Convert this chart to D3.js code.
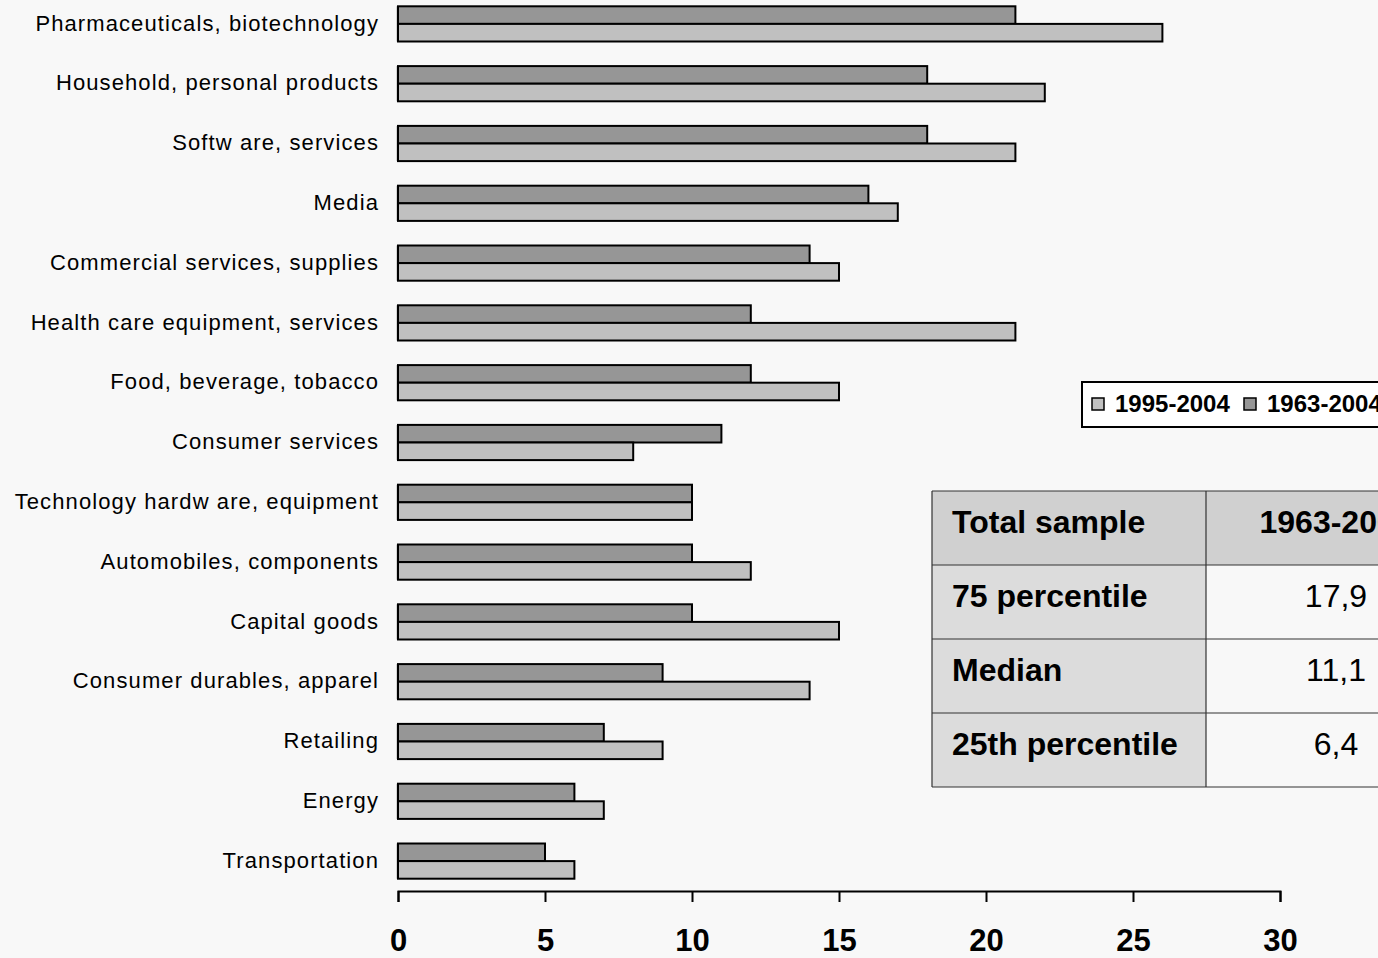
<!DOCTYPE html>
<html>
<head>
<meta charset="utf-8">
<script src="https://cdn.jsdelivr.net/npm/d3@7"></script>
<style>
html,body{margin:0;padding:0;background:#f8f8f8;}
svg{display:block;font-family:"Liberation Sans",Arial,sans-serif;}
</style>
</head>
<body>
<svg id="chart" width="1378" height="958"></svg>
<script>
const categories = ["Pharmaceuticals, biotechnology","Household, personal products","Softw are, services","Media","Commercial services, supplies","Health care equipment, services","Food, beverage, tobacco","Consumer services","Technology hardw are, equipment","Automobiles, components","Capital goods","Consumer durables, apparel","Retailing","Energy","Transportation"];
const series1963 = [21,18,18,16,14,12,12,11,10,10,10,9,7,6,5];
const series1995 = [26,22,21,17,15,21,15,8,10,12,15,14,9,7,6];
const seriesNames = ["1963-2004","1995-2004"];
const xTicks = [0,5,10,15,20,25,30];
const tableHeader = ["Total sample","1963-2004"];
const tableRows = [["75 percentile","17,9"],["Median","11,1"],["25th percentile","6,4"]];

const svg = d3.select("#chart");
svg.append("rect").attr("width",1378).attr("height",958).attr("fill","#f8f8f8");

const x = d3.scaleLinear().domain([0,30]).range([398,1280]);
const y = d3.scaleBand().domain(categories).range([-6,891]);
const bw = y.bandwidth();
const barH = 17.6;
const yInner = d3.scaleBand().domain(seriesNames).range([bw/2-barH, bw/2+barH]);
const colors = {"1963-2004":"#969696","1995-2004":"#c0c0c0"};

const data = categories.map((c,i)=>({cat:c, vals:[{s:"1963-2004",v:series1963[i]},{s:"1995-2004",v:series1995[i]}]}));

// faint y axis segments
svg.append("g").selectAll("line").data(categories).join("line")
  .attr("x1",397).attr("x2",397)
  .attr("y1",d=>y(d)+bw/2-barH).attr("y2",d=>y(d)+bw/2+barH)
  .attr("stroke","#c8c8c8").attr("stroke-width",1.5);

const g = svg.append("g").selectAll("g").data(data).join("g")
  .attr("transform",d=>`translate(0,${y(d.cat)})`);
g.selectAll("rect").data(d=>d.vals).join("rect")
  .attr("x",x(0)).attr("y",d=>yInner(d.s))
  .attr("width",d=>x(d.v)-x(0)).attr("height",yInner.bandwidth())
  .attr("fill",d=>colors[d.s]).attr("stroke","#000").attr("stroke-width",2);

// category labels
svg.append("g").selectAll("text").data(categories).join("text")
  .attr("x",379).attr("y",d=>y(d)+bw/2).attr("dy","0.3em")
  .attr("text-anchor","end").attr("font-size",22).attr("letter-spacing","1.1px").attr("fill","#000")
  .text(d=>d);

// x axis
const xAxis = d3.axisBottom(x).tickValues(xTicks).tickSize(11).tickPadding(27).tickFormat(d3.format("d"));
const ax = svg.append("g").attr("transform","translate(0,891)").call(xAxis);
ax.select(".domain").attr("stroke","#000").attr("stroke-width",2);
ax.selectAll(".tick line").attr("stroke","#000").attr("stroke-width",2);
ax.selectAll(".tick text").attr("font-size",31).attr("font-weight","bold").attr("fill","#000")
  .attr("font-family","\"Liberation Sans\",Arial,sans-serif");

// legend
const leg = svg.append("g");
leg.append("rect").attr("x",1082).attr("y",382).attr("width",330).attr("height",45)
  .attr("fill","#fff").attr("stroke","#000").attr("stroke-width",2);
const legItems = [{s:"1995-2004",x:1092},{s:"1963-2004",x:1244}];
legItems.forEach(it=>{
  leg.append("rect").attr("x",it.x).attr("y",398).attr("width",12).attr("height",12)
    .attr("fill",colors[it.s]).attr("stroke","#000").attr("stroke-width",1.5);
  leg.append("text").attr("x",it.x+23).attr("y",412).attr("font-size",24).attr("font-weight","bold")
    .attr("fill","#000").text(it.s);
});

// table
const tx0=932, tx1=1206, tx2=1466, ty0=491, rh=74;
const tbl = svg.append("g");
const allRows = [tableHeader].concat(tableRows);
allRows.forEach((r,i)=>{
  const yy = ty0 + i*rh;
  tbl.append("rect").attr("x",tx0).attr("y",yy).attr("width",tx1-tx0).attr("height",rh)
    .attr("fill", i===0?"#d0d0d0":"#dcdcdc");
  tbl.append("rect").attr("x",tx1).attr("y",yy).attr("width",tx2-tx1).attr("height",rh)
    .attr("fill", i===0?"#d0d0d0":"#f8f8f8");
  tbl.append("text").attr("x",952).attr("y",yy+42).attr("font-size",32).attr("font-weight","bold")
    .attr("fill","#000").text(r[0]);
  tbl.append("text").attr("x",1336).attr("y",yy+42).attr("font-size",32)
    .attr("font-weight", i===0?"bold":"normal").attr("text-anchor","middle")
    .attr("fill","#000").text(r[1]);
});
for(let i=0;i<=allRows.length;i++){
  tbl.append("line").attr("x1",tx0).attr("x2",tx2).attr("y1",ty0+i*rh).attr("y2",ty0+i*rh)
    .attr("stroke","#333").attr("stroke-width",1.2);
}
[tx0,tx1].forEach(xx=>{
  tbl.append("line").attr("x1",xx).attr("x2",xx).attr("y1",ty0).attr("y2",ty0+allRows.length*rh)
    .attr("stroke","#333").attr("stroke-width",1.2);
});
</script>
</body>
</html>
